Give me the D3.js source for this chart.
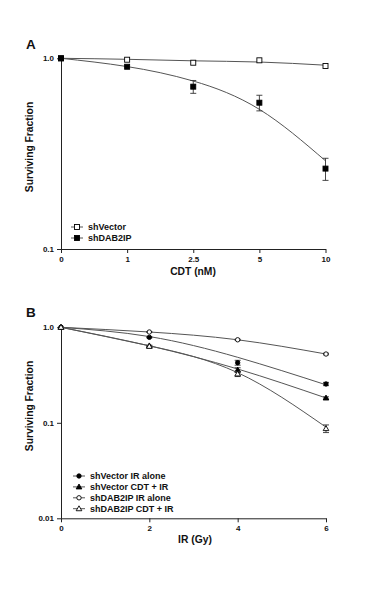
<!DOCTYPE html>
<html lang="en">
<head>
<meta charset="UTF-8">
<title>Surviving Fraction</title>
<script src="https://cdn.jsdelivr.net/npm/d3@7"></script>
<style>
  body { margin: 0; background: #fff; }
  svg text { font-family: Arial, "Liberation Sans", sans-serif; font-weight: bold; fill: #111; }
  .axis path, .axis line { stroke: #222; }
</style>
</head>
<body>
<script>
// ---- Panel A data (CDT dose, categorical x) ----
const doseA = ["0", "1", "2.5", "5", "10"];
const vecA = [1.0, 0.983, 0.948, 0.976, 0.911];
const vecAErr = [0, 0, 0, 0, 0];
const vecAFit = [1.0, 0.988, 0.97, 0.956, 0.92];
const dabA = [1.0, 0.903, 0.71, 0.585, 0.264];
const dabAErr = [0, 0, 0.055, 0.055, 0.035];
const dabAFit = [1.0, 0.905, 0.76, 0.54, 0.29];
const yTicksA = [0.1, 1];

// ---- Panel B data (IR dose in Gy) ----
const doseB = [0, 2, 4, 6];
const vecIR = [1.0, 0.785, 0.426, 0.255];
const vecIRErr = [0, 0.01, 0.025, 0.01];
const vecIRFit = [1.0, 0.8, 0.485, 0.25];
const vecCDT = [1.0, 0.64, 0.357, 0.182];
const vecCDTErr = [0, 0.01, 0.02, 0.005];
const vecCDTFit = [1.0, 0.64, 0.366, 0.182];
const dabIR = [1.0, 0.893, 0.74, 0.525];
const dabIRErr = [0, 0.01, 0.01, 0.01];
const dabIRFit = [1.0, 0.893, 0.74, 0.525];
const dabCDT = [1.0, 0.632, 0.325, 0.087];
const dabCDTErr = [0, 0.01, 0.02, 0.008];
const dabCDTFit = [1.0, 0.64, 0.335, 0.09];
const yTicksB = [0.01, 0.1, 1];

const svg = d3.select("body").append("svg")
  .attr("width", 375).attr("height", 589);

const fmt = d => d === 1 ? "1.0" : String(d);
const lineColor = "#555";

// marker drawing helper
function marker(g, type, x, y) {
  const filled = type.startsWith("f");
  const fill = filled ? "#000" : "#fff";
  if (type.endsWith("square")) {
    g.append("rect").attr("x", x - 2.5).attr("y", y - 2.5)
      .attr("width", 5).attr("height", 5)
      .attr("fill", fill).attr("stroke", "#000").attr("stroke-width", 0.9);
  } else if (type.endsWith("circle")) {
    g.append("circle").attr("cx", x).attr("cy", y).attr("r", 2.2)
      .attr("fill", fill).attr("stroke", "#000").attr("stroke-width", 0.9);
  } else {
    g.append("path")
      .attr("d", d3.symbol(d3.symbolTriangle, 14)())
      .attr("transform", `translate(${x},${y + 0.4})`)
      .attr("fill", fill).attr("stroke", "#000").attr("stroke-width", 0.9);
  }
}

function drawSeries(g, xs, x, y, vals, errs, fit, type) {
  const line = d3.line().x((d, i) => x(xs[i])).y(d => y(d)).curve(d3.curveNatural);
  g.append("path").attr("d", line(fit))
    .attr("fill", "none").attr("stroke", lineColor).attr("stroke-width", 1);
  vals.forEach((v, i) => {
    const px = x(xs[i]);
    if (errs[i] > 0) {
      const y1 = y(v + errs[i]), y2 = y(Math.max(v - errs[i], 0.001));
      g.append("path")
        .attr("d", `M${px},${y1}V${y2}M${px - 3},${y1}H${px + 3}M${px - 3},${y2}H${px + 3}`)
        .attr("stroke", "#333").attr("stroke-width", 0.9).attr("fill", "none");
    }
    marker(g, type, px, y(v));
  });
}

function drawLegend(g, items, x0, y0, dy) {
  items.forEach((it, i) => {
    const yy = y0 + i * dy;
    g.append("line").attr("x1", x0).attr("x2", x0 + 12).attr("y1", yy).attr("y2", yy)
      .attr("stroke", lineColor).attr("stroke-width", 1);
    marker(g, it.type, x0 + 6, yy);
    g.append("text").attr("x", x0 + 17).attr("y", yy + 3.2)
      .attr("font-size", 9).text(it.label);
  });
}

function styleTicks(a) {
  a.selectAll("text").attr("font-size", 8).attr("font-family", null).attr("fill", "#111");
}

// ================= Panel A =================
const gA = svg.append("g");
const xA = d3.scalePoint().domain(doseA).range([61, 325.5]);
const yA = d3.scaleLog().domain([0.1, 1]).range([249, 58.3]);

gA.append("g").attr("class", "axis").attr("transform", "translate(0,249)")
  .call(d3.axisBottom(xA).tickSize(4).tickPadding(3).tickSizeOuter(0))
  .call(styleTicks);
gA.append("g").attr("class", "axis").attr("transform", "translate(61,0)")
  .call(d3.axisLeft(yA).tickValues(yTicksA).tickFormat(fmt).tickSize(4).tickPadding(3).tickSizeOuter(0))
  .call(styleTicks);

drawSeries(gA, doseA, xA, yA, vecA, vecAErr, vecAFit, "osquare");
drawSeries(gA, doseA, xA, yA, dabA, dabAErr, dabAFit, "fsquare");

drawLegend(gA, [
  { label: "shVector", type: "osquare" },
  { label: "shDAB2IP", type: "fsquare" }
], 71, 227, 11);

gA.append("text").attr("x", 26).attr("y", 48.5).attr("font-size", 13.5).text("A");
gA.append("text").attr("x", 193).attr("y", 274.5).attr("text-anchor", "middle")
  .attr("font-size", 10.3).text("CDT (nM)");
gA.append("text").attr("transform", "translate(33,147) rotate(-90)")
  .attr("text-anchor", "middle").attr("font-size", 10.3).text("Surviving Fraction");

// ================= Panel B =================
const gB = svg.append("g");
const xB = d3.scaleLinear().domain([0, 6]).range([61, 326]);
const yB = d3.scaleLog().domain([0.01, 1]).range([518.3, 327.3]);

gB.append("g").attr("class", "axis").attr("transform", "translate(0,518.3)")
  .call(d3.axisBottom(xB).tickValues(doseB).tickFormat(d3.format("d")).tickSize(4).tickPadding(3).tickSizeOuter(0))
  .call(styleTicks);
gB.append("g").attr("class", "axis").attr("transform", "translate(61,0)")
  .call(d3.axisLeft(yB).tickValues(yTicksB).tickFormat(fmt).tickSize(4).tickPadding(3).tickSizeOuter(0))
  .call(styleTicks);

drawSeries(gB, doseB, xB, yB, dabIR, dabIRErr, dabIRFit, "ocircle");
drawSeries(gB, doseB, xB, yB, vecIR, vecIRErr, vecIRFit, "fcircle");
drawSeries(gB, doseB, xB, yB, vecCDT, vecCDTErr, vecCDTFit, "ftriangle");
drawSeries(gB, doseB, xB, yB, dabCDT, dabCDTErr, dabCDTFit, "otriangle");

drawLegend(gB, [
  { label: "shVector IR alone", type: "fcircle" },
  { label: "shVector CDT + IR", type: "ftriangle" },
  { label: "shDAB2IP IR alone", type: "ocircle" },
  { label: "shDAB2IP CDT + IR", type: "otriangle" }
], 73, 476, 10.9);

gB.append("text").attr("x", 26).attr("y", 317).attr("font-size", 13.5).text("B");
gB.append("text").attr("x", 195).attr("y", 543).attr("text-anchor", "middle")
  .attr("font-size", 10.3).text("IR (Gy)");
gB.append("text").attr("transform", "translate(33,406) rotate(-90)")
  .attr("text-anchor", "middle").attr("font-size", 10.3).text("Surviving Fraction");
</script>
</body>
</html>
